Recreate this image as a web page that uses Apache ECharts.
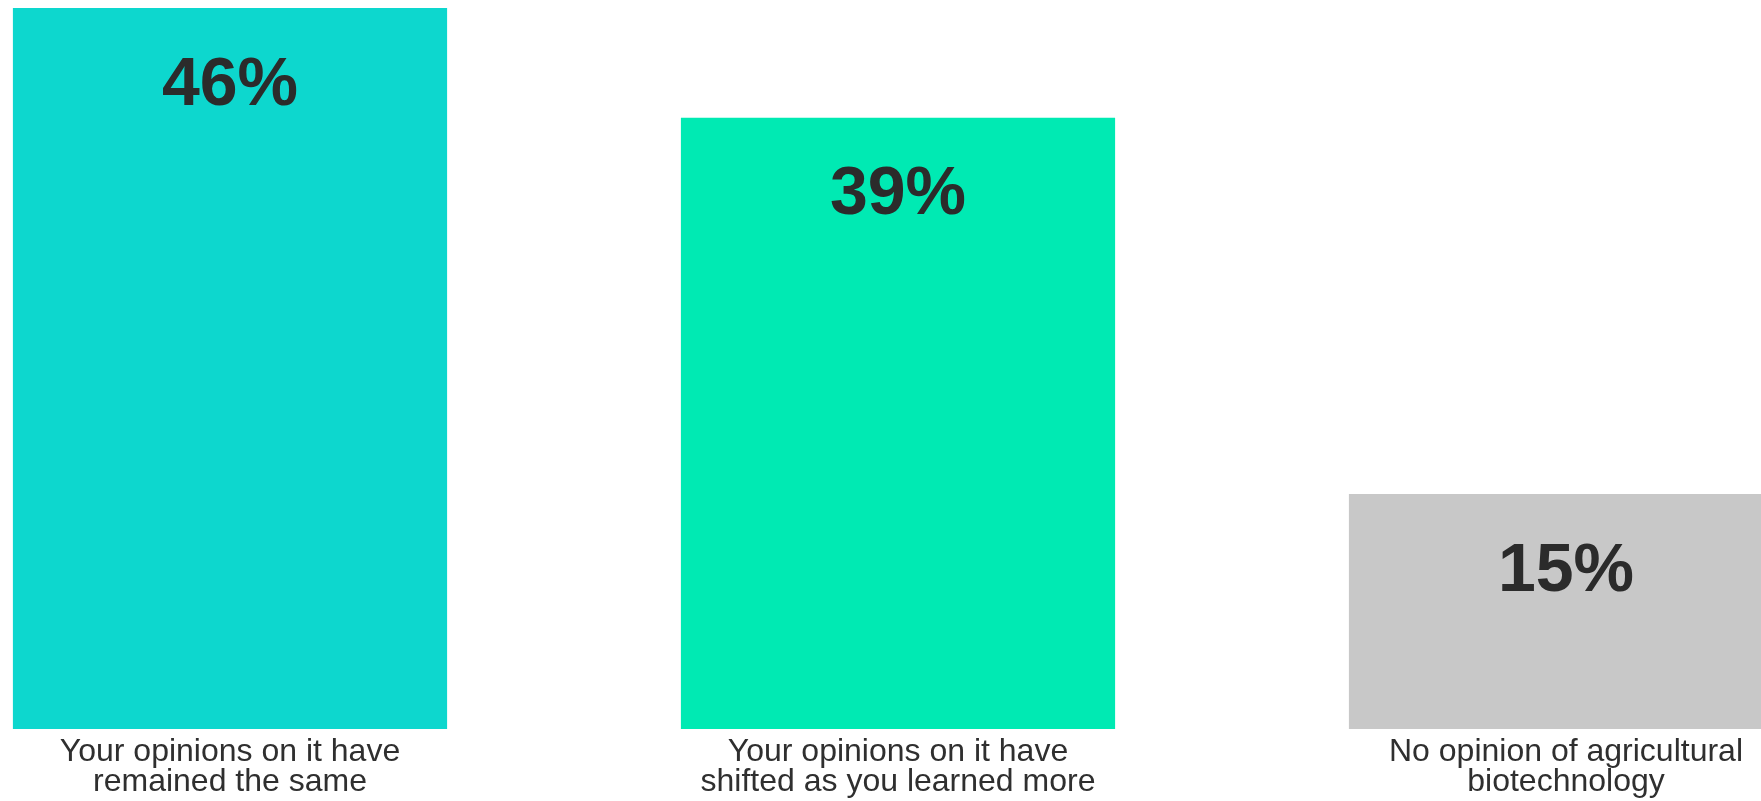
<!DOCTYPE html>
<html>
<head>
<meta charset="utf-8">
<script src="https://cdn.jsdelivr.net/npm/echarts@6/dist/echarts.min.js"></script>
<style>
html,body{margin:0;padding:0;background:#fff;}
#chart{width:1761px;height:801px;}
</style>
</head>
<body>
<div id="chart"></div>
<script>
const categories = [
  "Your opinions on it have\nremained the same",
  "Your opinions on it have\nshifted as you learned more",
  "No opinion of agricultural\nbiotechnology"
];
const values = [46, 39, 15];
const barColors = ["#0dd7ce", "#00eab3", "#c8c8c8"];

const FONT = "'Liberation Sans', Arial, Helvetica, sans-serif";
const chart = echarts.init(document.getElementById('chart'), null, {renderer: 'canvas'});
chart.setOption({
  animation: false,
  grid: {left: -104, width: 2004, top: 8, bottom: 72, containLabel: false, outerBoundsMode: 'none'},
  xAxis: {
    type: 'category',
    data: categories,
    axisLine: {show: false},
    axisTick: {show: false},
    axisLabel: {
      margin: 8,
      fontFamily: FONT,
      fontSize: 32,
      lineHeight: 30,
      color: '#2f2f2f',
      interval: 0,
      hideOverlap: false
    }
  },
  yAxis: {
    type: 'value',
    min: 0,
    max: 46,
    show: false,
    splitLine: {show: false}
  },
  series: [{
    type: 'bar',
    barCategoryGap: '35%',
    data: values.map((v, i) => ({value: v, itemStyle: {color: barColors[i]}})),
    label: {
      show: true,
      position: ['50%', 78],
      align: 'center',
      verticalAlign: 'middle',
      formatter: '{c}%',
      fontFamily: FONT,
      fontWeight: 'bold',
      fontSize: 68,
      color: '#2b2b2b'
    }
  }]
});
</script>
</body>
</html>
